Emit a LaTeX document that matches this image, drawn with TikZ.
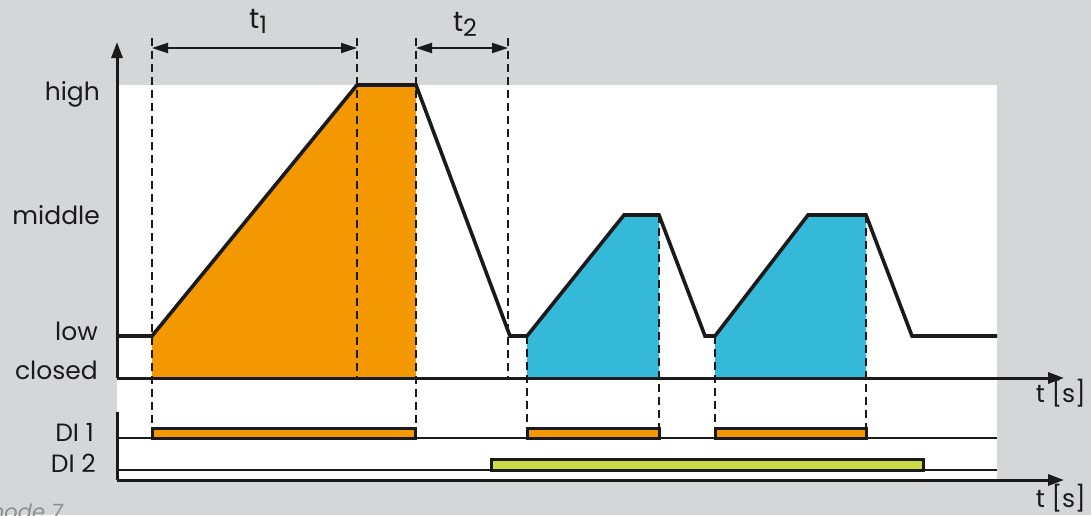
\documentclass[tikz,border=0pt]{standalone}
\usepackage{fontspec}
\setmainfont{Poppins}
\usetikzlibrary{arrows.meta}
\definecolor{bg}{HTML}{D5D6D8}
\definecolor{ora}{HTML}{F39800}
\definecolor{cya}{HTML}{35B9D9}
\definecolor{lim}{HTML}{CBDB45}
\definecolor{ink}{HTML}{1A1A1A}
\definecolor{cap}{HTML}{8E8F91}
\tikzset{
  lbl/.style={inner sep=0pt, font=\fontsize{25}{28}\selectfont, text=ink, anchor=base east},
  axis/.style={draw=ink, line width=3pt},
  axarrow/.style={axis, -{Triangle[length=16pt,width=11pt]}},
  curve/.style={draw=ink, line width=3.6pt, line join=miter},
  thin/.style={draw=ink, line width=1.5pt},
  guide/.style={draw=ink, line width=1.8pt, dash pattern=on 8pt off 5pt},
  dim/.style={draw=ink, line width=2pt, {Triangle[length=16pt,width=10pt]}-{Triangle[length=16pt,width=10pt]}},
  bar/.style={draw=ink, line width=3pt},
}
\newcommand{\lowsub}[1]{\raisebox{-5pt}{\fontsize{24}{24}\selectfont #1}}
\begin{document}
\begin{tikzpicture}[x=1pt,y=-1pt]
\useasboundingbox (0,0) rectangle (1091,515);
\fill[bg] (0,0) rectangle (1091,515);
\fill[white] (117,85) rectangle (997,480);

% fills
\fill[ora] (152,378) -- (152,336) -- (357,85) -- (416,85) -- (416,378) -- cycle;
\fill[cya] (527,378) -- (527,336) -- (624,215) -- (659,215) -- (659,378) -- cycle;
\fill[cya] (715,378) -- (715,336) -- (808,215) -- (866,215) -- (866,378) -- cycle;

% coordinates
\coordinate (o) at (117,378);
\coordinate (ytop) at (117,42);
\coordinate (xend) at (1064,378);
\coordinate (o2top) at (117,412);
\coordinate (o2) at (117,480);
\coordinate (x2end) at (1064,480);
\coordinate (di1s) at (117,438);
\coordinate (di1e) at (997,438);
\coordinate (di2s) at (117,470);
\coordinate (di2e) at (997,470);

% guides
\draw[guide] (152,38) -- (152,430);
\draw[guide] (357,38) -- (357,378);
\draw[guide] (416,38) -- (416,430);
\draw[guide] (508,38) -- (508,378);
\draw[guide] (527,336) -- (527,430);
\draw[guide] (659,215) -- (659,430);
\draw[guide] (715,336) -- (715,430);
\draw[guide] (866,215) -- (866,430);

% dimension arrows
\coordinate (t1a) at (152,48);
\coordinate (t1b) at (357,48);
\coordinate (t2a) at (416,48);
\coordinate (t2b) at (508,48);
\draw[dim] (t1a) -- (t1b);
\draw[dim] (t2a) -- (t2b);
\node[lbl, anchor=base, font=\fontsize{28}{30}\selectfont] (t1) at (258,28) {t\lowsub{1}};
\node[lbl, anchor=base, font=\fontsize{28}{30}\selectfont] (t2) at (465,31) {t\lowsub{2}};

% curve
\draw[curve] (117,336) -- (152,336) -- (357,85) -- (416,85) -- (510,336) -- (527,336)
  -- (624,215) -- (659,215) -- (705,336) -- (715,336) -- (808,215) -- (866,215)
  -- (912,336) -- (997,336);

% thin lines
\draw[thin] (di1s) -- (di1e);
\draw[thin] (di2s) -- (di2e);

% bars
\draw[bar, fill=ora] (152,428) rectangle (415,438);
\draw[bar, fill=ora] (527,428) rectangle (659,438);
\draw[bar, fill=ora] (715,428) rectangle (866,438);
\draw[bar, fill=lim] (491,459) rectangle (923,470);

% axes
\draw[axarrow] (o) -- (ytop);
\draw[axarrow] (o) -- (xend);
\draw[axis] (o2top) -- (o2);
\draw[axarrow] (o2) -- (x2end);

% labels
\node[lbl] (lhigh) at (100,100) {high};
\node[lbl] (lmid) at (100,224) {middle};
\node[lbl] (llow) at (98,340) {low};
\node[lbl] (lclosed) at (98,379) {closed};
\node[lbl] (ldi1) at (94,441) {DI 1};
\node[lbl] (ldi2) at (96,472) {DI 2};
\node[lbl] (ts1) at (1086,402) {t [s]};
\node[lbl] (ts2) at (1086,507) {t [s]};
\node[inner sep=0pt, anchor=base east, text=cap, font=\fontsize{21}{24}\selectfont\itshape] (mode) at (63,519) {mode 7};
\end{tikzpicture}
\end{document}
